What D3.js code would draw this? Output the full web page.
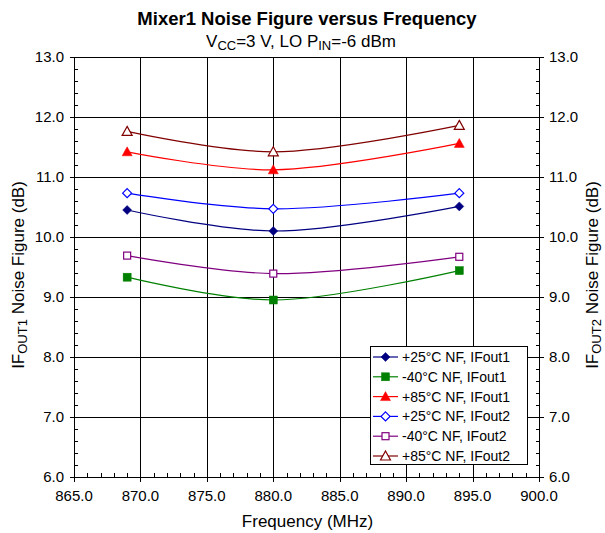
<!DOCTYPE html>
<html><head><meta charset="utf-8">
<script src="https://cdn.jsdelivr.net/npm/d3@7"></script>
<style>body{margin:0;background:#fff;}svg{display:block;font-family:"Liberation Sans",Arial,sans-serif;}</style>
</head><body>
<svg id="c" width="605" height="533"></svg>
<script>
const freqs = [869, 880, 894];
const nf25_1 = [10.45, 10.10, 10.51];
const nf40_1 = [9.33, 8.95, 9.44];
const nf85_1 = [11.42, 11.12, 11.56];
const nf25_2 = [10.73, 10.47, 10.73];
const nf40_2 = [9.69, 9.39, 9.67];
const nf85_2 = [11.76, 11.42, 11.86];
const seriesNames = ["+25°C NF, IFout1","-40°C NF, IFout1","+85°C NF, IFout1","+25°C NF, IFout2","-40°C NF, IFout2","+85°C NF, IFout2"];
const xTicks = [865,870,875,880,885,890,895,900];
const yTicks = [6,7,8,9,10,11,12,13];

const series = [
  {name:seriesNames[0], v:nf25_1, color:"#000080", shape:"diamond", fill:true},
  {name:seriesNames[1], v:nf40_1, color:"#008000", shape:"square", fill:true},
  {name:seriesNames[2], v:nf85_1, color:"#FF0000", shape:"triangle", fill:true},
  {name:seriesNames[3], v:nf25_2, color:"#0000FF", shape:"diamond", fill:false},
  {name:seriesNames[4], v:nf40_2, color:"#800080", shape:"square", fill:false},
  {name:seriesNames[5], v:nf85_2, color:"#800000", shape:"triangle", fill:false}
];

const L=74, R=539, T=57, B=477;
const svg = d3.select("#c");
const x = d3.scaleLinear().domain([865,900]).range([L,R]);
const y = d3.scaleLinear().domain([6,13]).range([B,T]);

const g = svg.append("g");
g.selectAll(".vg").data(xTicks).join("line")
  .attr("x1",d=>Math.round(x(d))+0.5).attr("x2",d=>Math.round(x(d))+0.5)
  .attr("y1",T).attr("y2",B).attr("stroke","#000").attr("stroke-width",1);
g.selectAll(".hg").data(yTicks).join("line")
  .attr("y1",d=>Math.round(y(d))+0.5).attr("y2",d=>Math.round(y(d))+0.5)
  .attr("x1",L).attr("x2",R).attr("stroke","#000").attr("stroke-width",1);

const minorY = d3.range(6,13.001,0.2);
const minorX = d3.range(865,900.001,1);
const ax = svg.append("g").attr("stroke","#000").attr("stroke-width",1);
ax.append("line").attr("x1",L+0.5).attr("x2",L+0.5).attr("y1",T).attr("y2",B);
ax.append("line").attr("x1",Math.round(R)+0.5).attr("x2",Math.round(R)+0.5).attr("y1",T).attr("y2",B);
ax.append("line").attr("x1",L).attr("x2",R).attr("y1",B+0.5).attr("y2",B+0.5);
minorY.forEach(v=>{
  const yy=Math.round(y(v))+0.5;
  ax.append("line").attr("x1",L).attr("x2",L+4).attr("y1",yy).attr("y2",yy);
  ax.append("line").attr("x1",R-3).attr("x2",R+1).attr("y1",yy).attr("y2",yy);
});
minorX.forEach(v=>{
  const xx=Math.round(x(v))+0.5;
  ax.append("line").attr("x1",xx).attr("x2",xx).attr("y1",B-4).attr("y2",B);
});
yTicks.forEach(v=>{
  const yy=Math.round(y(v))+0.5;
  ax.append("line").attr("x1",L-4).attr("x2",L).attr("y1",yy).attr("y2",yy);
  ax.append("line").attr("x1",R).attr("x2",R+5).attr("y1",yy).attr("y2",yy);
});
xTicks.forEach(v=>{
  const xx=Math.round(x(v))+0.5;
  ax.append("line").attr("x1",xx).attr("x2",xx).attr("y1",B).attr("y2",B+5);
});

const fmt = d3.format(".1f");
svg.selectAll(".yl").data(yTicks).join("text")
  .attr("x",L-10).attr("y",d=>y(d)+5).attr("text-anchor","end").attr("font-size",15).text(fmt);
svg.selectAll(".yr").data(yTicks).join("text")
  .attr("x",R+10).attr("y",d=>y(d)+5).attr("text-anchor","start").attr("font-size",15).text(fmt);
svg.selectAll(".xl").data(xTicks).join("text")
  .attr("x",d=>x(d)).attr("y",B+24).attr("text-anchor","middle").attr("font-size",15).text(fmt);

svg.append("text").attr("x",307).attr("y",25).attr("text-anchor","middle").attr("font-size",18.5).attr("font-weight","bold").text("Mixer1 Noise Figure versus Frequency");
const st = svg.append("text").attr("x",301).attr("y",47).attr("text-anchor","middle").attr("font-size",17);
st.append("tspan").text("V");
st.append("tspan").attr("font-size",13).attr("dy",3).text("CC");
st.append("tspan").attr("dy",-3).text("=3 V, LO P");
st.append("tspan").attr("font-size",13).attr("dy",3).text("IN");
st.append("tspan").attr("dy",-3).text("=-6 dBm");

svg.append("text").attr("x",(L+R)/2+1).attr("y",527).attr("text-anchor","middle").attr("font-size",17).text("Frequency (MHz)");

function ylab(xp, sub){
  const t = svg.append("text").attr("transform",`translate(${xp},${(T+B)/2+8}) rotate(-90)`).attr("text-anchor","middle").attr("font-size",17);
  t.append("tspan").text("IF");
  t.append("tspan").attr("font-size",13).attr("dy",3).text(sub);
  t.append("tspan").attr("dy",-3).text(" Noise Figure (dB)");
}
ylab(24,"OUT1");
ylab(598,"OUT2");

const line = d3.line().x((d,i)=>x(freqs[i])).y(d=>y(d)).curve(d3.curveCatmullRom.alpha(0.5));
function marker(sel, s, cx, cy){
  let p;
  if(s.shape==="diamond") p = sel.append("path").attr("d",`M${cx},${cy-4.5}L${cx+4.5},${cy}L${cx},${cy+4.5}L${cx-4.5},${cy}Z`);
  else if(s.shape==="square") p = s.fill ? sel.append("rect").attr("x",cx-4).attr("y",cy-4).attr("width",8).attr("height",8)
                                        : sel.append("rect").attr("x",cx-3.5).attr("y",cy-3.5).attr("width",7).attr("height",7);
  else p = sel.append("path").attr("d",`M${cx},${cy-5}L${cx+5},${cy+4}L${cx-5},${cy+4}Z`);
  p.attr("fill", s.fill ? s.color : "#fff").attr("stroke", s.color).attr("stroke-width", s.fill?0.5:1.2);
}
const pl = svg.append("g");
series.forEach(s=>{
  pl.append("path").datum(s.v).attr("d",line).attr("fill","none").attr("stroke",s.color).attr("stroke-width",1.2);
});
series.forEach(s=>{
  s.v.forEach((v,i)=>marker(pl, s, x(freqs[i]), y(v)));
});

const lg = svg.append("g");
lg.append("rect").attr("x",370.5).attr("y",346.5).attr("width",157).attr("height",118).attr("fill","#fff").attr("stroke","#000");
series.forEach((s,i)=>{
  const yy = 357 + i*19.8;
  lg.append("line").attr("x1",373).attr("x2",398).attr("y1",yy).attr("y2",yy).attr("stroke",s.color).attr("stroke-width",1.2);
  marker(lg, s, 385.5, yy);
  lg.append("text").attr("x",402).attr("y",yy+5).attr("font-size",14).text(s.name);
});
</script>
</body></html>
